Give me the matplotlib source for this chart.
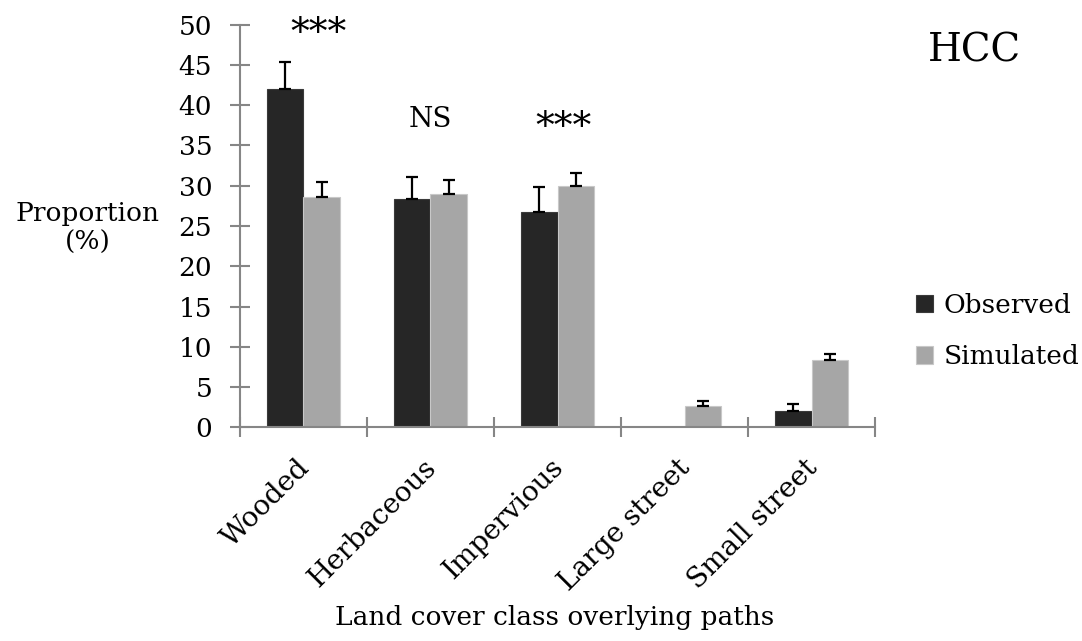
import numpy as np
import matplotlib
matplotlib.use("Agg")
import matplotlib.pyplot as plt

# Data
categories = ["Wooded", "Herbaceous", "Impervious", "Large street", "Small street"]
observed = [42.0, 28.4, 26.7, 0.0, 2.0]
observed_err = [3.4, 2.7, 3.1, 0.0, 0.9]
simulated = [28.6, 29.0, 30.0, 2.7, 8.4]
simulated_err = [1.9, 1.7, 1.6, 0.6, 0.7]
signif = ["***", "NS", "***"]

plt.rcParams['font.family'] = ['DejaVu Serif']
grey = "#868686"

fig = plt.figure(figsize=(10.82, 6.41), dpi=100)
ax = fig.add_axes([0.2218, 0.3334, 0.5869, 0.6281])

x = np.arange(len(categories))
w = 0.284
ax.bar(x - w / 2, observed, w, color="#262626", edgecolor="#3a3a3a", linewidth=0.8,
       label="Observed", zorder=2)
ax.bar(x + w / 2, simulated, w, color="#a6a6a6", edgecolor="#c8c8c8", linewidth=0.8,
       label="Simulated", zorder=2)

# plus-only error bars
obs_mask = np.array(observed_err) > 0
ax.errorbar((x - w / 2)[obs_mask], np.array(observed)[obs_mask],
            yerr=[np.zeros(obs_mask.sum()), np.array(observed_err)[obs_mask]],
            fmt="none", ecolor="black", elinewidth=1.6, capsize=4.5, capthick=1.6, zorder=3)
ax.errorbar(x + w / 2, simulated, yerr=[np.zeros(len(x)), simulated_err],
            fmt="none", ecolor="black", elinewidth=1.6, capsize=4.5, capthick=1.6, zorder=3)

ax.set_xlim(-0.5, len(categories) - 0.5)
ax.set_ylim(0, 50)
ax.set_yticks(np.arange(0, 51, 5))
ax.set_xticks(np.arange(-0.5, len(categories), 1.0))
ax.set_xticklabels([])
ax.tick_params(axis="both", direction="inout", length=14, width=1.5, color=grey)
ax.tick_params(axis="y", labelsize=19, pad=13)

for s in ["top", "right"]:
    ax.spines[s].set_visible(False)
for s in ["left", "bottom"]:
    ax.spines[s].set_color(grey)
    ax.spines[s].set_linewidth(1.5)

# rotated category labels
for i, name in enumerate(categories):
    ax.annotate(name, xy=(i, 0), xycoords=("data", "axes fraction"),
                xytext=(1.5, -26), textcoords="offset points",
                rotation=45, ha="right", va="center", rotation_mode="anchor",
                fontsize=20)

# significance marks
ax.text(0.12, 46.6, signif[0], ha="center", va="bottom", fontsize=27, clip_on=False)
ax.text(1, 37.3, signif[1], ha="center", va="baseline", fontsize=20)
ax.text(2.05, 34.9, signif[2], ha="center", va="bottom", fontsize=27)

fig.text(0.081, 0.644, "Proportion\n(%)", ha="center", va="center", fontsize=19,
         linespacing=1.2)
fig.text(0.513, 0.036, "Land cover class overlying paths", ha="center", va="center",
         fontsize=19)
fig.text(0.901, 0.920, "HCC", ha="center", va="center", fontsize=28)

fig.legend(loc="center left", bbox_to_anchor=(0.825, 0.4836), frameon=False,
           fontsize=19, handlelength=0.64, handleheight=0.64, handletextpad=0.38,
           labelspacing=1.0)

fig.savefig("out.png", dpi=100)
